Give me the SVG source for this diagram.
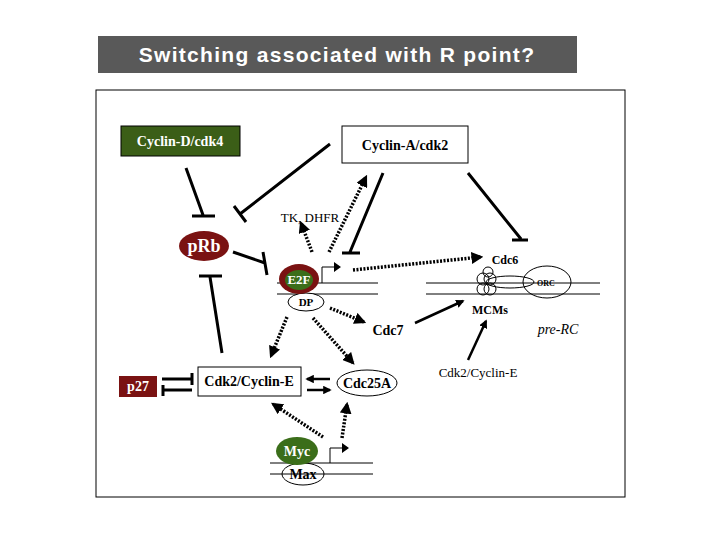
<svg xmlns="http://www.w3.org/2000/svg" width="720" height="540" viewBox="0 0 720 540">
<defs>
<marker id="ah" viewBox="0 0 10 10" refX="8" refY="5" markerWidth="3.4" markerHeight="3.4" orient="auto"><path d="M0,0 L10,5 L0,10 z" fill="#000"/></marker>
<style>
.s{font-family:"Liberation Serif",serif;font-weight:bold;font-size:14px}
.r{font-family:"Liberation Serif",serif;font-size:14px}
.ln{stroke:#000;stroke-width:3;fill:none}
.dot{stroke:#000;stroke-width:3.5;fill:none;stroke-dasharray:2 1.5;marker-end:url(#ah)}
.arr{stroke:#000;stroke-width:2.5;fill:none;marker-end:url(#ah)}
.dna{stroke:#000;stroke-width:1;fill:none}
</style>
</defs>
<rect width="720" height="540" fill="#fff"/>
<g id="title"><rect x="98" y="36" width="479" height="37" fill="#595959"/>
<text x="337" y="62" text-anchor="middle" font-family="Liberation Sans,sans-serif" font-weight="bold" font-size="21" letter-spacing="1.3" fill="#fff">Switching associated with R point?</text></g>
<rect x="96" y="90" width="529" height="407" fill="none" stroke="#000"/>
<g id="dna">
<path class="dna" d="M277,283H378M277,294H378M426,283H600M426,294H600M270,463H373M270,474H373"/>
<path class="dna" stroke-width="2.5" d="M322,283V267H335M330,463V448H343"/>
<path d="M334,262 L341,267 L334,272z M342,443 L349,448 L342,453z"/>
</g>
<g id="connectors">
<path class="ln" d="M186,168L203,215M192,216H215"/>
<path class="ln" d="M330,144L240,214M234,206L246,222"/>
<path class="ln" d="M233,252L265,263M263,252L267,275"/>
<path class="ln" d="M383,173L350,252M342,253H360"/>
<path class="ln" d="M468,173L521,239M512,240H528"/>
<path class="ln" d="M222,353L210,277M199,276H222"/>
<path class="ln" d="M162,379H192M192,373V385M163,390H192M163,385V396"/>
<path class="dot" d="M312,252L301,223"/>
<path class="dot" d="M329,252L366,177"/>
<path class="dot" d="M353,270L481,257"/>
<path class="dot" d="M330,308L364,322"/>
<path class="dot" d="M287,317L271,356"/>
<path class="dot" d="M313,318L353,363"/>
<path class="dot" d="M323,437L273,404"/>
<path class="dot" d="M342,438L347,404"/>
<path class="arr" d="M415,323L463,301"/>
<path class="arr" d="M468,360L486,321"/>
<path class="arr" d="M330,379H307"/>
<path class="arr" d="M307,390H330"/>
</g>
<g id="cyclinD"><rect x="121" y="126" width="119" height="30" fill="#3b5e17" stroke="#000"/><text class="s" x="180" y="146" text-anchor="middle" fill="#fff">Cyclin-D/cdk4</text></g>
<g id="cyclinA"><rect x="342" y="126" width="126" height="37" fill="#fff" stroke="#000"/><text class="s" x="405" y="150" text-anchor="middle">Cyclin-A/cdk2</text></g>
<g id="pRb"><ellipse cx="204" cy="246" rx="25" ry="15" fill="#7a1212"/><text class="s" x="204" y="252" text-anchor="middle" fill="#fff" style="font-size:18px">pRb</text></g>
<g id="tk"><text class="r" x="310" y="222" text-anchor="middle" style="font-size:13px">TK, DHFR</text></g>
<g id="DP"><ellipse cx="306" cy="302" rx="18" ry="9" fill="#fff" stroke="#000"/><text class="s" x="306" y="306" text-anchor="middle" style="font-size:11px">DP</text></g>
<g id="E2F"><ellipse cx="299" cy="279" rx="20" ry="15" fill="#7a1212"/><ellipse cx="299" cy="280" rx="14" ry="10" fill="#3b6e1a"/><text class="s" x="299" y="284" text-anchor="middle" fill="#fff" style="font-size:13px">E2F</text></g>
<g id="cdc6"><text class="s" x="505" y="264" text-anchor="middle" style="font-size:12px">Cdc6</text></g>
<g id="orc"><ellipse cx="547" cy="282" rx="24" ry="16" fill="none" stroke="#000"/><ellipse cx="510" cy="282" rx="24" ry="6" fill="none" stroke="#000"/>
<circle cx="483" cy="279" r="6" fill="none" stroke="#000"/><circle cx="490" cy="279" r="6" fill="none" stroke="#000"/><circle cx="483" cy="289" r="6" fill="none" stroke="#000"/><circle cx="490" cy="289" r="6" fill="none" stroke="#000"/><circle cx="488" cy="272" r="5" fill="none" stroke="#000"/>
<text class="s" x="546" y="286" text-anchor="middle" style="font-size:8px">ORC</text></g>
<g id="mcms"><text class="s" x="490" y="314" text-anchor="middle" style="font-size:12px">MCMs</text></g>
<g id="cdc7"><text class="s" x="388" y="335" text-anchor="middle">Cdc7</text></g>
<g id="prerc"><text class="r" x="558" y="334" text-anchor="middle" font-style="italic">pre-RC</text></g>
<g id="cdk2r"><text class="r" x="478" y="377" text-anchor="middle" style="font-size:13px">Cdk2/Cyclin-E</text></g>
<g id="p27"><rect x="119" y="376" width="38" height="21" fill="#7a1212"/><text class="s" x="138" y="391" text-anchor="middle" fill="#fff">p27</text></g>
<g id="cdk2box"><rect x="198" y="367" width="103" height="29" fill="#fff" stroke="#000"/><text class="s" x="249" y="386" text-anchor="middle">Cdk2/Cyclin-E</text></g>
<g id="cdc25a"><ellipse cx="367" cy="383" rx="30" ry="13" fill="#fff" stroke="#000"/><text class="s" x="367" y="388" text-anchor="middle">Cdc25A</text></g>
<g id="max"><ellipse cx="303" cy="474" rx="21" ry="11" fill="none" stroke="#000"/><text class="s" x="303" y="479" text-anchor="middle">Max</text></g>
<g id="myc"><ellipse cx="297" cy="451" rx="21" ry="14" fill="#3b6e1a"/><text class="s" x="297" y="456" text-anchor="middle" fill="#fff">Myc</text></g>
</svg>
